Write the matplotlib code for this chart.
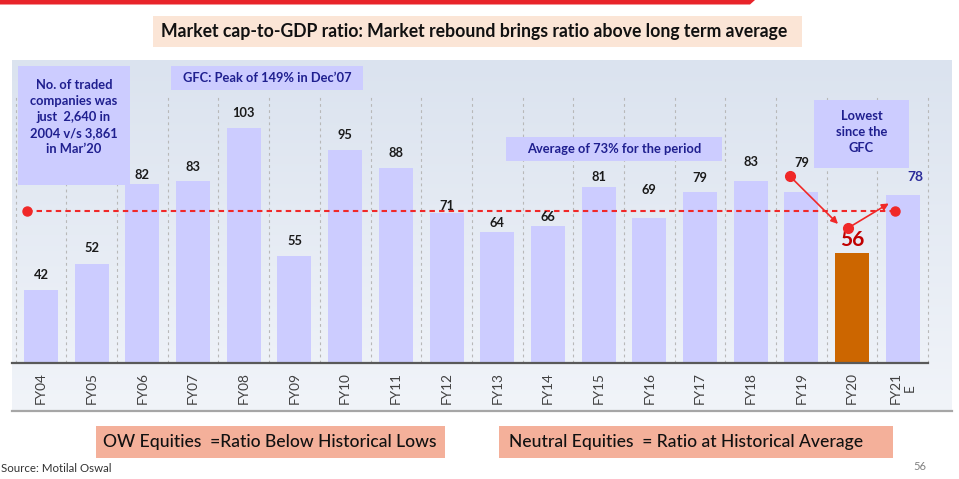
import matplotlib.pyplot as plt
import matplotlib.patches as mpatches
import numpy as np

plt.rcParams['font.family'] = ['Lato', 'DejaVu Sans']

# data
categories = ['FY04', 'FY05', 'FY06', 'FY07', 'FY08', 'FY09', 'FY10', 'FY11', 'FY12',
              'FY13', 'FY14', 'FY15', 'FY16', 'FY17', 'FY18', 'FY19', 'FY20', 'FY21E']
tick_labels = ['FY04', 'FY05', 'FY06', 'FY07', 'FY08', 'FY09', 'FY10', 'FY11', 'FY12',
               'FY13', 'FY14', 'FY15', 'FY16', 'FY17', 'FY18', 'FY19', 'FY20', 'FY21\nE']
mcap_gdp = [42, 52, 82, 83, 103, 55, 95, 88, 71, 64, 66, 81, 69, 79, 83, 79, 56, 78]
long_term_avg = 72

# how far (px) each value label sits above its bar
label_lift = [15, 15.6, 9, 14.7, 15.3, 14.7, 15, 15, 6.7, 9, 9.3, 10, 28, 14.3, 19.3, 29, 12.5, 17.6]

W, H = 959, 479
fig = plt.figure(figsize=(W / 100, H / 100), dpi=100)
fig.patch.set_facecolor('white')


def fx(x):
    return x / W


def fy(y):
    return 1 - y / H


# red stripe at the top
fig.add_artist(mpatches.Polygon([(fx(0), fy(0)), (fx(755), fy(0)), (fx(750), fy(4.5)), (fx(0), fy(4.5))],
                                closed=True, transform=fig.transFigure, color='#e8242a', lw=0))

# panel background with a soft gradient
bg = fig.add_axes([fx(12), fy(411), fx(940), 351 / H], zorder=0)
top_c = np.array([0xdb, 0xe3, 0xef]) / 255
bot_c = np.array([0xf1, 0xf4, 0xf9]) / 255
t = np.linspace(0, 1, 200)[:, None]
grad = top_c[None, None, :] * (1 - t)[:, :, None] + bot_c[None, None, :] * t[:, :, None]
bg.imshow(grad, aspect='auto', extent=(0, 1, 0, 1))
bg.set_xlim(0, 1)
bg.set_ylim(0, 1)
bg.axis('off')
fig.add_artist(plt.Line2D([fx(12), fx(952)], [fy(411), fy(411)], transform=fig.transFigure,
                          color='#a6a6a6', lw=1.6))

# main chart axes
ymin = 14.45
ax = fig.add_axes([fx(12), fy(363), fx(940), 268 / H], zorder=2)
ax.set_facecolor('none')
x = np.arange(len(categories))
ax.set_xlim(-0.572, 17.97)
ax.set_ylim(ymin, 115.6)

colors = ['#ccccff'] * len(categories)
colors[categories.index('FY20')] = '#cc6600'
ax.bar(x, np.array(mcap_gdp) - ymin, bottom=ymin, width=0.67, color=colors, zorder=2)

for s in ax.spines.values():
    s.set_visible(False)
ax.plot([-0.572, 17.5], [ymin, ymin], color='#595959', lw=1.6, clip_on=False, zorder=3)

ax.set_xticks(x)
ax.set_xticklabels(tick_labels, rotation=90, fontsize=9.8, color='#404040', va='top', ha='center')
ax.tick_params(axis='x', length=0, pad=6.5)
ax.set_yticks([])
ax.set_xticks(np.arange(-0.5, 18, 1), minor=True)
ax.tick_params(axis='x', which='minor', length=0)
ax.grid(which='minor', axis='x', color='#b8b8b8', lw=0.8, ls=(0, (2.5, 3)), zorder=1)

# value labels
for i, v in enumerate(mcap_gdp):
    lift = label_lift[i] * 0.72
    if categories[i] == 'FY20':
        ax.annotate(str(v), (i, v), xytext=(0, lift), textcoords='offset points', ha='center',
                    va='center', fontsize=15, fontweight='bold', color='#c00000', zorder=5)
    elif categories[i] == 'FY21E':
        ax.annotate(str(v), (i, v), xytext=(9, lift), textcoords='offset points', ha='center',
                    va='center', fontsize=10, fontweight='bold', color='#2b2b9a', zorder=5)
    else:
        ax.annotate(str(v), (i, v), xytext=(0, lift), textcoords='offset points', ha='center',
                    va='center', fontsize=9.3, fontweight='bold', color='#1a1a1a', zorder=5)

# long-term average line
i19 = categories.index('FY19')
i20 = categories.index('FY20')
i21 = categories.index('FY21E')
red = '#f02828'
ax.plot([-0.28, i21 - 0.16], [long_term_avg, long_term_avg], color=red, lw=1.5,
        ls=(0, (2.6, 2)), marker='o', markersize=6.5, clip_on=False, zorder=4)

# arrows FY19 -> FY20 -> FY21E
ax.plot([i19 - 0.23], [85], 'o', color=red, markersize=7, clip_on=False, zorder=6)
ax.annotate('', xy=(i20 - 0.24, 66.2), xytext=(i19 - 0.23, 85),
            arrowprops=dict(arrowstyle='-|>', color=red, lw=1.2, mutation_scale=10), zorder=6)
ax.plot([i20 - 0.08], [65.4], 'o', color=red, markersize=7, clip_on=False, zorder=6)
ax.annotate('', xy=(i21 - 0.23, 75.2), xytext=(i20 - 0.08, 65.4),
            arrowprops=dict(arrowstyle='-|>', color=red, lw=1.2, mutation_scale=10), zorder=6)


def box(x0, y0, x1, y1, fc, text, tx, ty, **kw):
    fig.add_artist(mpatches.Rectangle((fx(x0), fy(y1)), fx(x1 - x0), (y1 - y0) / H,
                                      transform=fig.transFigure, color=fc, lw=0, zorder=7))
    fig.text(fx(tx), fy(ty), text, ha='center', va='center', zorder=8, **kw)


navy = '#1f1f8f'
box(18, 66, 130, 185, '#ccccff',
    'No. of traded\ncompanies was\njust  2,640 in\n2004 v/s 3,861\nin Mar\u201920',
    74, 117, fontsize=9.3, fontweight='bold', color=navy, linespacing=1.42)
box(171, 66, 363, 90, '#ccccff', 'GFC: Peak of 149% in Dec\u201907', 267, 78,
    fontsize=9.3, fontweight='bold', color=navy)
box(506, 137, 722, 161, '#ccccff', 'Average of 73% for the period', 614, 149,
    fontsize=9.3, fontweight='bold', color=navy)
box(814, 100, 909, 168, '#ccccff', 'Lowest\nsince the\nGFC', 861.5, 132,
    fontsize=9.3, fontweight='bold', color=navy, linespacing=1.42)

# title and footer boxes
box(153, 16, 802, 47, '#fbe5d6',
    'Market cap-to-GDP ratio: Market rebound brings ratio above long term average',
    474, 32, fontsize=12.7, fontweight='bold', color='#111111')
box(96, 426, 445, 458, '#f4b09a', 'OW Equities  =Ratio Below Historical Lows', 270, 442,
    fontsize=12.6, fontweight='medium', color='#111111')
box(499, 426, 893, 458, '#f4b09a', 'Neutral Equities  = Ratio at Historical Average', 686, 442,
    fontsize=12.6, fontweight='medium', color='#111111')

fig.text(fx(1), fy(468), 'Source: Motilal Oswal', ha='left', va='center', fontsize=8.3, color='#333333')
fig.text(fx(920), fy(466), '56', ha='center', va='center', fontsize=8, color='#808080')

fig.savefig('out.png', dpi=100)
